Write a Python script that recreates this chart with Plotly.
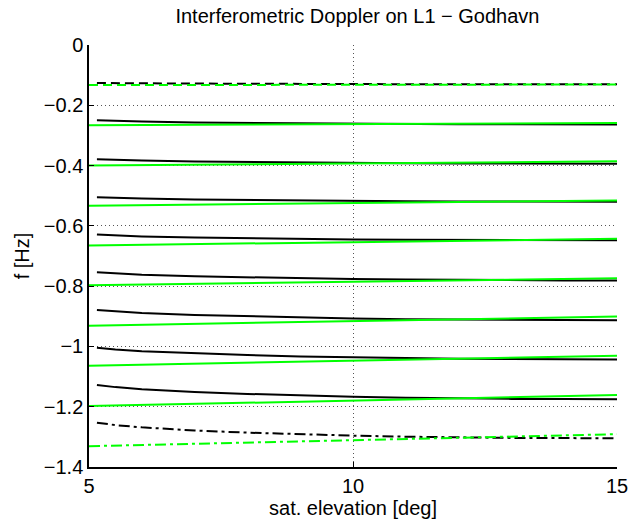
import plotly.graph_objects as go

# Elevation samples for the black (measured) curves
x_black = [5.15, 5.5, 6, 7, 8, 9, 10, 11, 12, 13, 14, 15]
# Elevation samples for the green (model) lines
x_green = [5, 10, 15]

black_k1 = [-0.126, -0.127, -0.127, -0.128, -0.129, -0.129, -0.130, -0.130, -0.130, -0.130, -0.130, -0.130]
black_k2 = [-0.250, -0.252, -0.254, -0.257, -0.2585, -0.260, -0.261, -0.262, -0.263, -0.263, -0.263, -0.2635]
black_k3 = [-0.379, -0.381, -0.3835, -0.3865, -0.3885, -0.390, -0.3915, -0.3925, -0.393, -0.3935, -0.394, -0.394]
black_k4 = [-0.505, -0.507, -0.5095, -0.5125, -0.5145, -0.516, -0.5175, -0.5185, -0.519, -0.5195, -0.520, -0.520]
black_k5 = [-0.629, -0.632, -0.635, -0.6385, -0.641, -0.643, -0.645, -0.646, -0.647, -0.6475, -0.648, -0.648]
black_k6 = [-0.754, -0.758, -0.762, -0.7675, -0.771, -0.774, -0.7765, -0.778, -0.7795, -0.7805, -0.781, -0.781]
black_k7 = [-0.879, -0.884, -0.889, -0.896, -0.900, -0.904, -0.907, -0.9095, -0.911, -0.912, -0.9125, -0.913]
black_k8 = [-1.004, -1.010, -1.016, -1.0235, -1.0285, -1.033, -1.036, -1.039, -1.041, -1.042, -1.0425, -1.043]
black_k9 = [-1.128, -1.135, -1.142, -1.1515, -1.1575, -1.163, -1.167, -1.170, -1.1725, -1.174, -1.1745, -1.175]
black_k10 = [-1.253, -1.261, -1.2685, -1.279, -1.286, -1.2915, -1.296, -1.2995, -1.302, -1.3035, -1.304, -1.305]

green_k1 = [-0.133, -0.132, -0.131]
green_k2 = [-0.266, -0.263, -0.259]
green_k3 = [-0.400, -0.393, -0.386]
green_k4 = [-0.533, -0.525, -0.516]
green_k5 = [-0.665, -0.654, -0.643]
green_k6 = [-0.797, -0.786, -0.774]
green_k7 = [-0.931, -0.917, -0.901]
green_k8 = [-1.064, -1.048, -1.031]
green_k9 = [-1.198, -1.180, -1.161]
green_k10 = [-1.331, -1.312, -1.291]

y_tickvals = [0, -0.2, -0.4, -0.6, -0.8, -1, -1.2, -1.4]
y_ticktext = ["0", "−0.2", "−0.4", "−0.6", "−0.8", "−1", "−1.2", "−1.4"]
x_tickvals = [5, 10, 15]
x_ticktext = ["5", "10", "15"]

black_series = [black_k1, black_k2, black_k3, black_k4, black_k5,
                black_k6, black_k7, black_k8, black_k9, black_k10]
green_series = [green_k1, green_k2, green_k3, green_k4, green_k5,
                green_k6, green_k7, green_k8, green_k9, green_k10]

DASH = "9px,5px"
DASHDOT = "11px,4px,3px,4px"

def style(i):
    if i == 0:
        return DASH
    if i == len(black_series) - 1:
        return DASHDOT
    return "solid"

fig = go.Figure()
for i, ys in enumerate(black_series):
    fig.add_trace(go.Scatter(x=x_black, y=ys, mode="lines",
                             line=dict(color="black", width=2, dash=style(i)),
                             showlegend=False))
for i, ys in enumerate(green_series):
    fig.add_trace(go.Scatter(x=x_green, y=ys, mode="lines",
                             line=dict(color="#00ff00", width=2, dash=style(i)),
                             showlegend=False))

font_family = "Liberation Sans, Arial, sans-serif"
fig.update_layout(
    width=640, height=523,
    margin=dict(l=89, r=12, t=45, b=53),
    paper_bgcolor="white", plot_bgcolor="white",
    font=dict(family=font_family, size=20, color="black"),
    title=dict(text="Interferometric Doppler on L1 − Godhavn",
               x=0.5585, xanchor="center", y=0.983, yanchor="top",
               font=dict(size=20)),
)
fig.update_xaxes(
    range=[5, 15], tickvals=x_tickvals, ticktext=x_ticktext,
    showline=True, linecolor="black", linewidth=1.5, mirror=False,
    ticks="inside", ticklen=5, tickcolor="black", tickwidth=1,
    showgrid=True, gridcolor="#555555", gridwidth=1, griddash="1px,3px",
    zeroline=False,
    title=dict(text="sat. elevation [deg]", standoff=0, font=dict(size=20)),
    tickfont=dict(size=20),
)
fig.update_yaxes(
    range=[-1.4, 0], tickvals=y_tickvals, ticktext=y_ticktext,
    showline=True, linecolor="black", linewidth=1.5, mirror=False,
    ticks="inside", ticklen=5, tickcolor="black", tickwidth=1,
    showgrid=True, gridcolor="#555555", gridwidth=1, griddash="1px,3px",
    zeroline=False,
    title=dict(text="f [Hz]", standoff=9, font=dict(size=20)),
    tickfont=dict(size=20),
)

fig.write_html("out.html")
